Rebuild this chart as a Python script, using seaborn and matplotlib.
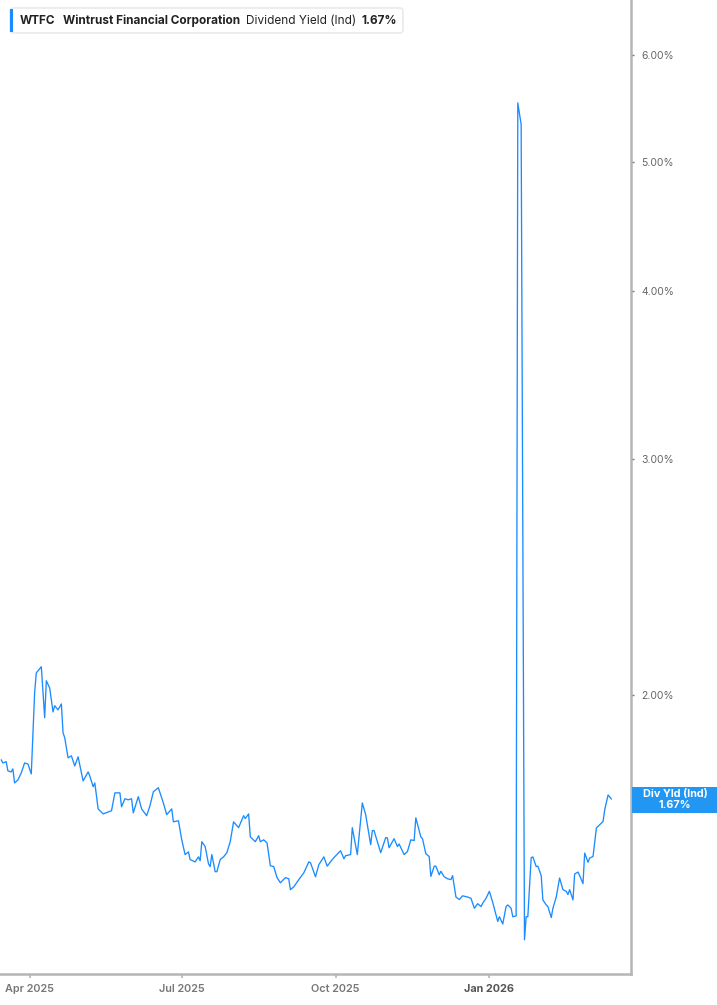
import pandas as pd
import seaborn as sns
import matplotlib.pyplot as plt
from matplotlib.patches import FancyBboxPatch, Rectangle
from matplotlib.ticker import FixedLocator, NullLocator
from matplotlib.transforms import IdentityTransform

sns.set_style("white")
plt.rcParams['font.family'] = ['Inter', 'DejaVu Sans']

ticker = "WTFC"
company = "Wintrust Financial Corporation"
metric = "Dividend Yield (Ind)"
short_metric = "Div Yld (Ind)"
last_value = 1.67

dates = [
    "2025-03-15", "2025-03-16", "2025-03-18", "2025-03-19", "2025-03-21", "2025-03-22", "2025-03-23",
    "2025-03-25", "2025-03-27", "2025-03-29", "2025-03-31",
    "2025-04-02", "2025-04-04", "2025-04-05", "2025-04-08", "2025-04-10", "2025-04-11", "2025-04-13",
    "2025-04-15", "2025-04-16", "2025-04-18", "2025-04-20", "2025-04-21", "2025-04-22", "2025-04-24",
    "2025-04-26", "2025-04-28", "2025-04-30",
    "2025-05-03", "2025-05-06", "2025-05-07", "2025-05-09", "2025-05-10", "2025-05-12", "2025-05-15",
    "2025-05-20", "2025-05-22", "2025-05-25", "2025-05-26", "2025-05-28", "2025-05-30",
    "2025-06-01", "2025-06-02", "2025-06-05", "2025-06-07", "2025-06-10", "2025-06-12", "2025-06-14",
    "2025-06-17", "2025-06-20", "2025-06-22", "2025-06-25", "2025-06-26", "2025-06-29",
    "2025-07-01", "2025-07-03", "2025-07-05", "2025-07-06", "2025-07-09", "2025-07-11", "2025-07-12",
    "2025-07-13", "2025-07-15", "2025-07-17", "2025-07-18", "2025-07-19", "2025-07-21", "2025-07-22",
    "2025-07-24", "2025-07-26", "2025-07-28", "2025-07-30",
    "2025-08-01", "2025-08-04", "2025-08-07", "2025-08-08", "2025-08-10", "2025-08-11", "2025-08-14",
    "2025-08-16", "2025-08-17", "2025-08-19", "2025-08-21", "2025-08-23", "2025-08-25", "2025-08-27",
    "2025-08-29",
    "2025-09-01", "2025-09-03", "2025-09-04", "2025-09-06", "2025-09-09", "2025-09-12", "2025-09-15",
    "2025-09-16", "2025-09-19", "2025-09-21", "2025-09-24", "2025-09-26", "2025-09-29", "2025-09-30",
    "2025-10-04", "2025-10-06", "2025-10-07", "2025-10-10", "2025-10-11", "2025-10-13", "2025-10-14",
    "2025-10-17", "2025-10-19", "2025-10-22", "2025-10-23", "2025-10-24", "2025-10-28", "2025-10-31",
    "2025-11-01", "2025-11-02", "2025-11-05", "2025-11-07", "2025-11-08", "2025-11-11", "2025-11-13",
    "2025-11-15", "2025-11-17", "2025-11-18", "2025-11-21", "2025-11-22", "2025-11-24", "2025-11-26",
    "2025-11-27", "2025-11-29", "2025-11-30",
    "2025-12-02", "2025-12-03", "2025-12-05", "2025-12-07", "2025-12-09", "2025-12-10", "2025-12-12",
    "2025-12-14", "2025-12-16", "2025-12-19", "2025-12-21", "2025-12-23", "2025-12-25", "2025-12-27",
    "2025-12-28", "2025-12-30",
    "2026-01-01", "2026-01-03", "2026-01-06", "2026-01-07", "2026-01-09", "2026-01-11", "2026-01-12",
    "2026-01-14", "2026-01-15", "2026-01-17", "2026-01-18", "2026-01-20", "2026-01-22", "2026-01-23",
    "2026-01-24", "2026-01-26", "2026-01-27", "2026-01-29", "2026-01-30",
    "2026-02-01", "2026-02-02", "2026-02-04", "2026-02-05", "2026-02-07", "2026-02-08", "2026-02-10",
    "2026-02-12", "2026-02-14", "2026-02-16", "2026-02-17", "2026-02-18", "2026-02-20", "2026-02-21",
    "2026-02-23", "2026-02-24", "2026-02-26", "2026-02-27",
    "2026-03-01", "2026-03-02", "2026-03-04", "2026-03-06", "2026-03-08", "2026-03-10", "2026-03-11",
    "2026-03-13", "2026-03-15",
]

div_yield = [
    1.789, 1.779, 1.783, 1.755, 1.752, 1.761, 1.719, 1.728, 1.749, 1.779, 1.776,
    1.746, 2.007, 2.077, 2.099, 1.923, 2.049, 2.024, 1.942, 1.963, 1.949, 1.969, 1.874, 1.858, 1.795,
    1.801, 1.770, 1.798,
    1.725, 1.752, 1.740, 1.708, 1.719, 1.644, 1.630, 1.639, 1.690, 1.690, 1.650, 1.673, 1.670,
    1.673, 1.633, 1.679, 1.644, 1.625, 1.653, 1.693, 1.705, 1.661, 1.628, 1.644, 1.608, 1.611,
    1.559, 1.520, 1.527, 1.507, 1.501, 1.514, 1.504, 1.554, 1.541, 1.496, 1.489, 1.520, 1.476, 1.476,
    1.507, 1.514, 1.525, 1.554,
    1.608, 1.592, 1.625, 1.617, 1.630, 1.567, 1.554, 1.570, 1.554, 1.559, 1.551, 1.491, 1.489, 1.461,
    1.448,
    1.461, 1.458, 1.431, 1.438, 1.456, 1.473, 1.501, 1.499, 1.463, 1.494, 1.514, 1.490, 1.507, 1.512,
    1.530, 1.509, 1.517, 1.520, 1.592, 1.543, 1.520, 1.661, 1.628, 1.546, 1.584, 1.584, 1.525, 1.565,
    1.564, 1.538, 1.562, 1.541, 1.548, 1.520, 1.528, 1.559, 1.557, 1.619, 1.567, 1.562, 1.522, 1.515,
    1.464, 1.490, 1.490,
    1.468, 1.477, 1.463, 1.458, 1.456, 1.466, 1.413, 1.407, 1.416, 1.413, 1.410, 1.386, 1.397, 1.390,
    1.398, 1.410,
    1.427, 1.400, 1.355, 1.366, 1.349, 1.390, 1.394, 1.386, 1.366, 1.368, 5.53, 5.33, 1.313, 1.366,
    1.366, 1.512, 1.514, 1.489, 1.490,
    1.466, 1.406, 1.394, 1.390, 1.364, 1.386, 1.413, 1.460, 1.431, 1.427, 1.419, 1.431, 1.406, 1.470,
    1.475, 1.466, 1.446, 1.524,
    1.500, 1.511, 1.515, 1.591, 1.600, 1.609, 1.642, 1.684, 1.672,
]

y_ticks = [2.0, 3.0, 4.0, 5.0, 6.0]
x_ticks = ["2025-04-01", "2025-07-01", "2025-10-01", "2026-01-01"]
x_tick_labels = ["Apr 2025", "Jul 2025", "Oct 2025", "Jan 2026"]

line_color = "#1a8cff"
axis_color = "#b5b5b5"

df = pd.DataFrame({"date": pd.to_datetime(dates), "yield": div_yield})

W, H = 717, 1005
fig = plt.figure(figsize=(W / 100, H / 100), dpi=100)
ax = fig.add_axes([0, 31 / H, 631 / W, 974 / H])

sns.lineplot(data=df, x="date", y="yield", ax=ax, color=line_color, linewidth=0.95)

ax.set_yscale("log")
ax.set_ylim(1.238, 6.60)
ax.set_xlim(pd.Timestamp("2025-03-14 07:00"), pd.Timestamp("2026-03-26 17:00"))
ax.set_xlabel("")
ax.set_ylabel("")

# y axis on the right, fixed percent ticks
ax.yaxis.tick_right()
ax.yaxis.set_major_locator(FixedLocator(y_ticks))
ax.yaxis.set_minor_locator(NullLocator())
ax.set_yticklabels([f"{t:.2f}%" for t in y_ticks])
ax.tick_params(axis="y", which="major", right=True, left=False, length=2.5, width=1,
               color="#777777", pad=5, labelsize=7.5, labelcolor="#666666")

ax.set_xticks(pd.to_datetime(x_ticks))
ax.set_xticklabels(x_tick_labels)
ax.tick_params(axis="x", bottom=True, length=3, width=1.2, color=axis_color, pad=4,
               labelsize=7.8, labelcolor="#777777")
for lbl in ax.get_xticklabels():
    if lbl.get_text().startswith("Jan"):
        lbl.set_fontweight("bold")
        lbl.set_color("#555555")
    else:
        lbl.set_fontweight("semibold")

for side in ["left", "top"]:
    ax.spines[side].set_visible(False)
for side in ["right", "bottom"]:
    ax.spines[side].set_color(axis_color)
    ax.spines[side].set_linewidth(1.8)

# legend box at top left (pixel coords, origin bottom-left)
px = IdentityTransform()
fig.patches.append(FancyBboxPatch((10, H - 33), 393, 25, boxstyle="round,pad=0,rounding_size=3",
                                  transform=px, facecolor="white", edgecolor="#e6e6e6",
                                  linewidth=1, figure=fig))
fig.patches.append(Rectangle((10, H - 32), 3, 23, transform=px, facecolor=line_color,
                             edgecolor="none", figure=fig))
ty = 1 - 21 / H
fig.text(20 / W, ty, ticker, fontsize=8.5, fontweight="bold", color="#222222", va="center")
fig.text(63 / W, ty, company, fontsize=8.5, fontweight="bold", color="#222222", va="center")
fig.text(246 / W, ty, metric, fontsize=8.5, color="#222222", va="center")
fig.text(362 / W, ty, f"{last_value:.2f}%", fontsize=8.5, fontweight="bold", color="#222222",
         va="center")

# value tag at the right edge
y_px = ax.transData.transform((ax.get_xlim()[0], last_value))[1]
fig.patches.append(Rectangle((632, y_px - 13), 85, 26, transform=px, facecolor="#2196f3",
                             edgecolor="none", figure=fig))
fig.text(675 / W, (y_px + 5.5) / H, short_metric, fontsize=7.8, fontweight="bold",
         color="white", ha="center", va="center")
fig.text(675 / W, (y_px - 5.5) / H, f"{last_value:.2f}%", fontsize=7.8, fontweight="bold",
         color="white", ha="center", va="center")

fig.savefig("out.png", dpi=100)
